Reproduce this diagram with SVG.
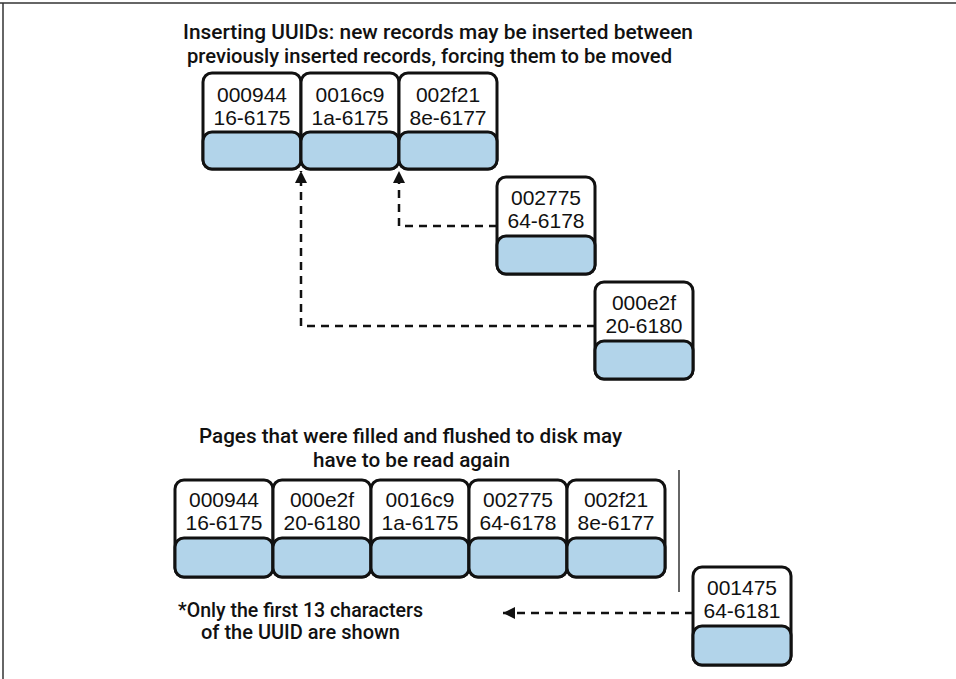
<svg xmlns="http://www.w3.org/2000/svg" width="956" height="679" viewBox="0 0 956 679">
<defs>
<style>
.frame{stroke:#333;stroke-width:1.5;fill:none}
.card{fill:#fff;stroke:#111;stroke-width:3}
.blue{fill:#b2d4ea;stroke:#111;stroke-width:3}
.num{font-family:"Liberation Sans",Arial,sans-serif;font-size:21px;fill:#111;text-anchor:middle}
.title{font-family:Roboto,"Liberation Sans",Arial,sans-serif;font-size:21px;font-weight:500;fill:#111}
.conn{fill:none;stroke:#111;stroke-width:2.5;stroke-dasharray:8 6}
.sep{stroke:#333;stroke-width:1.5}
</style>
<marker id="ah" markerUnits="userSpaceOnUse" markerWidth="12" markerHeight="12" refX="12" refY="6" orient="auto">
<path d="M0,0 L12,6 L0,12 z" fill="#111"/>
</marker>
</defs>
<rect width="956" height="679" fill="#fff"/>
<g id="frame">
<line class="frame" x1="0" y1="3" x2="956" y2="3"/>
<line class="frame" x1="3" y1="3" x2="3" y2="679"/>
</g>
<g id="titles">
<text class="title" x="183" y="39" textLength="510" lengthAdjust="spacingAndGlyphs">Inserting UUIDs: new records may be inserted between</text>
<text class="title" x="187" y="63" textLength="485" lengthAdjust="spacingAndGlyphs">previously inserted records, forcing them to be moved</text>
<text class="title" x="199" y="443" textLength="423" lengthAdjust="spacingAndGlyphs">Pages that were filled and flushed to disk may</text>
<text class="title" x="313" y="467" textLength="197" lengthAdjust="spacingAndGlyphs">have to be read again</text>
<text class="title" x="178" y="617" textLength="245" lengthAdjust="spacingAndGlyphs">*Only the first 13 characters</text>
<text class="title" x="201" y="639" textLength="199" lengthAdjust="spacingAndGlyphs">of the UUID are shown</text>
</g>
<g id="connectors">
<path class="conn" d="M497,226 H399 V171" marker-end="url(#ah)"/>
<path class="conn" d="M595,326 H301 V171" marker-end="url(#ah)"/>
<path class="conn" d="M693,613 H503" marker-end="url(#ah)"/>
<line class="sep" x1="679" y1="470" x2="679" y2="592"/>
</g>
<g id="top-000944" transform="translate(203,73)">
<rect class="card" width="98" height="96" rx="9"/><rect class="blue" y="59" width="98" height="37" rx="9"/>
<text class="num" x="49" y="29">000944</text><text class="num" x="49" y="52">16-6175</text>
</g>
<g id="top-0016c9" transform="translate(301,73)">
<rect class="card" width="98" height="96" rx="9"/><rect class="blue" y="59" width="98" height="37" rx="9"/>
<text class="num" x="49" y="29">0016c9</text><text class="num" x="49" y="52">1a-6175</text>
</g>
<g id="top-002f21" transform="translate(399,73)">
<rect class="card" width="98" height="96" rx="9"/><rect class="blue" y="59" width="98" height="37" rx="9"/>
<text class="num" x="49" y="29">002f21</text><text class="num" x="49" y="52">8e-6177</text>
</g>
<g id="new-002775" transform="translate(497,177)">
<rect class="card" width="98" height="97" rx="9"/><rect class="blue" y="59" width="98" height="38" rx="9"/>
<text class="num" x="49" y="28">002775</text><text class="num" x="49" y="51">64-6178</text>
</g>
<g id="new-000e2f" transform="translate(595,282)">
<rect class="card" width="98" height="97" rx="9"/><rect class="blue" y="59" width="98" height="38" rx="9"/>
<text class="num" x="49" y="28">000e2f</text><text class="num" x="49" y="51">20-6180</text>
</g>
<g id="page-000944" transform="translate(175,480)">
<rect class="card" width="98" height="97" rx="9"/><rect class="blue" y="58" width="98" height="39" rx="9"/>
<text class="num" x="49" y="27">000944</text><text class="num" x="49" y="50">16-6175</text>
</g>
<g id="page-000e2f" transform="translate(273,480)">
<rect class="card" width="98" height="97" rx="9"/><rect class="blue" y="58" width="98" height="39" rx="9"/>
<text class="num" x="49" y="27">000e2f</text><text class="num" x="49" y="50">20-6180</text>
</g>
<g id="page-0016c9" transform="translate(371,480)">
<rect class="card" width="98" height="97" rx="9"/><rect class="blue" y="58" width="98" height="39" rx="9"/>
<text class="num" x="49" y="27">0016c9</text><text class="num" x="49" y="50">1a-6175</text>
</g>
<g id="page-002775" transform="translate(469,480)">
<rect class="card" width="98" height="97" rx="9"/><rect class="blue" y="58" width="98" height="39" rx="9"/>
<text class="num" x="49" y="27">002775</text><text class="num" x="49" y="50">64-6178</text>
</g>
<g id="page-002f21" transform="translate(567,480)">
<rect class="card" width="98" height="97" rx="9"/><rect class="blue" y="58" width="98" height="39" rx="9"/>
<text class="num" x="49" y="27">002f21</text><text class="num" x="49" y="50">8e-6177</text>
</g>
<g id="new-001475" transform="translate(693,567)">
<rect class="card" width="98" height="98" rx="9"/><rect class="blue" y="59" width="98" height="39" rx="9"/>
<text class="num" x="49" y="28">001475</text><text class="num" x="49" y="51">64-6181</text>
</g>
</svg>
